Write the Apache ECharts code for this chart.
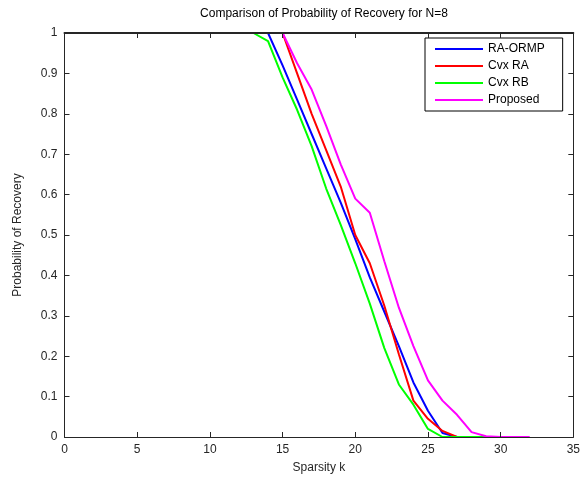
<!DOCTYPE html>
<html>
<head>
<meta charset="utf-8">
<script src="https://cdn.jsdelivr.net/npm/echarts@6/dist/echarts.min.js"></script>
<style>html,body{margin:0;padding:0;background:#fff}#c{width:583px;height:479px}</style>
</head>
<body>
<div id="c"></div>
<script>
var seriesNames = ['RA-ORMP', 'Cvx RA', 'Cvx RB', 'Proposed'];
var seriesColors = ['#0000ff', '#ff0000', '#00ff00', '#ff00ff'];
var xTicks = [0, 5, 10, 15, 20, 25, 30, 35];
var yTicks = [0, 0.1, 0.2, 0.3, 0.4, 0.5, 0.6, 0.7, 0.8, 0.9, 1];

var kBlue = [1,2,3,4,5,6,7,8,9,10,11,12,13,14,15,16,17,18,19,20,21,22,23,24,25,26,27];
var raOrmp = [1,1,1,1,1,1,1,1,1,1,1,1,1,1,0.92,0.835,0.75,0.665,0.58,0.49,0.395,0.31,0.225,0.135,0.065,0.01,0];

var kRed = [1,2,3,4,5,6,7,8,9,10,11,12,13,14,15,16,17,18,19,20,21,22,23,24,25,26,27];
var cvxRA = [1,1,1,1,1,1,1,1,1,1,1,1,1,1,1,0.9,0.8,0.71,0.62,0.5,0.43,0.325,0.205,0.09,0.045,0.015,0];

var kGreen = [1,2,3,4,5,6,7,8,9,10,11,12,13,14,15,16,17,18,19,20,21,22,23,24,25,26,27,28,29];
var cvxRB = [1,1,1,1,1,1,1,1,1,1,1,1,1,0.98,0.89,0.81,0.72,0.615,0.525,0.43,0.33,0.22,0.13,0.08,0.02,0,0,0,0];

var kMag = [1,2,3,4,5,6,7,8,9,10,11,12,13,14,15,16,17,18,19,20,21,22,23,24,25,26,27,28,29,30,31,32];
var proposed = [1,1,1,1,1,1,1,1,1,1,1,1,1,1,1,0.925,0.86,0.77,0.675,0.59,0.555,0.435,0.32,0.225,0.14,0.09,0.055,0.012,0.002,0,0,0];

function pairs(ks, vs) { return ks.map(function (k, i) { return [k, vs[i]]; }); }
var allK = [kBlue, kRed, kGreen, kMag];
var allV = [raOrmp, cvxRA, cvxRB, proposed];

var font = '"Liberation Sans", Arial, Helvetica, sans-serif';
var axisCol = '#262626';

function xAx(pos, labels) {
  return {
    type: 'value', position: pos, min: xTicks[0], max: xTicks[xTicks.length - 1], interval: 5,
    z: 10,
    axisLine: { show: true, onZero: false, lineStyle: { color: axisCol, width: labels ? 1 : 2 } },
    axisTick: { show: true, inside: true, length: 5, lineStyle: { color: axisCol } },
    axisLabel: { show: labels, color: axisCol, fontSize: 12, fontFamily: font, margin: 7 },
    splitLine: { show: false },
    name: labels ? 'Sparsity k' : '', nameLocation: 'middle', nameGap: 25,
    nameTextStyle: { color: axisCol, fontSize: 12, fontFamily: font }
  };
}
function yAx(pos, labels) {
  return {
    type: 'value', position: pos, min: yTicks[0], max: yTicks[yTicks.length - 1], interval: 0.1,
    z: 10,
    axisLine: { show: true, onZero: false, lineStyle: { color: axisCol, width: 1 } },
    axisTick: { show: true, inside: true, length: 5, lineStyle: { color: axisCol } },
    axisLabel: { show: labels, color: axisCol, fontSize: 12, fontFamily: font, margin: 7,
      formatter: function (v) { return (v === 0 || v === 1) ? String(v) : v.toFixed(1); } },
    splitLine: { show: false },
    name: labels ? 'Probability of Recovery' : '', nameLocation: 'middle', nameGap: 41, nameRotate: 90,
    nameTextStyle: { color: axisCol, fontSize: 12, fontFamily: font }
  };
}

var chart = echarts.init(document.getElementById('c'), null, { renderer: 'canvas' });
chart.setOption({
  animation: false,
  backgroundColor: '#ffffff',
  title: {
    text: 'Comparison of Probability of Recovery for N=8',
    left: 319, top: 3, textAlign: 'center',
    textStyle: { color: '#000', fontSize: 12, fontWeight: 'normal', fontFamily: font }
  },
  grid: { left: 64.5, right: 9.5, top: 33, bottom: 42, containLabel: false },
  xAxis: [xAx('bottom', true), xAx('top', false)],
  yAxis: [yAx('left', true), yAx('right', false)],
  legend: {
    orient: 'vertical', left: 425, top: 38,
    data: seriesNames,
    backgroundColor: '#fff', borderColor: '#000', borderWidth: 1,
    padding: [4, 18, 4, 10], itemGap: 3, itemWidth: 48, itemHeight: 2,
    icon: 'rect',
    textStyle: { color: '#000', fontSize: 12, fontFamily: font, lineHeight: 14 }
  },
  series: seriesNames.map(function (n, i) {
    return {
      name: n, type: 'line', xAxisIndex: 0, yAxisIndex: 0,
      data: pairs(allK[i], allV[i]),
      showSymbol: false, symbol: 'none',
      lineStyle: { color: seriesColors[i], width: 2 },
      itemStyle: { color: seriesColors[i] },
      clip: true
    };
  })
});
</script>
</body>
</html>
